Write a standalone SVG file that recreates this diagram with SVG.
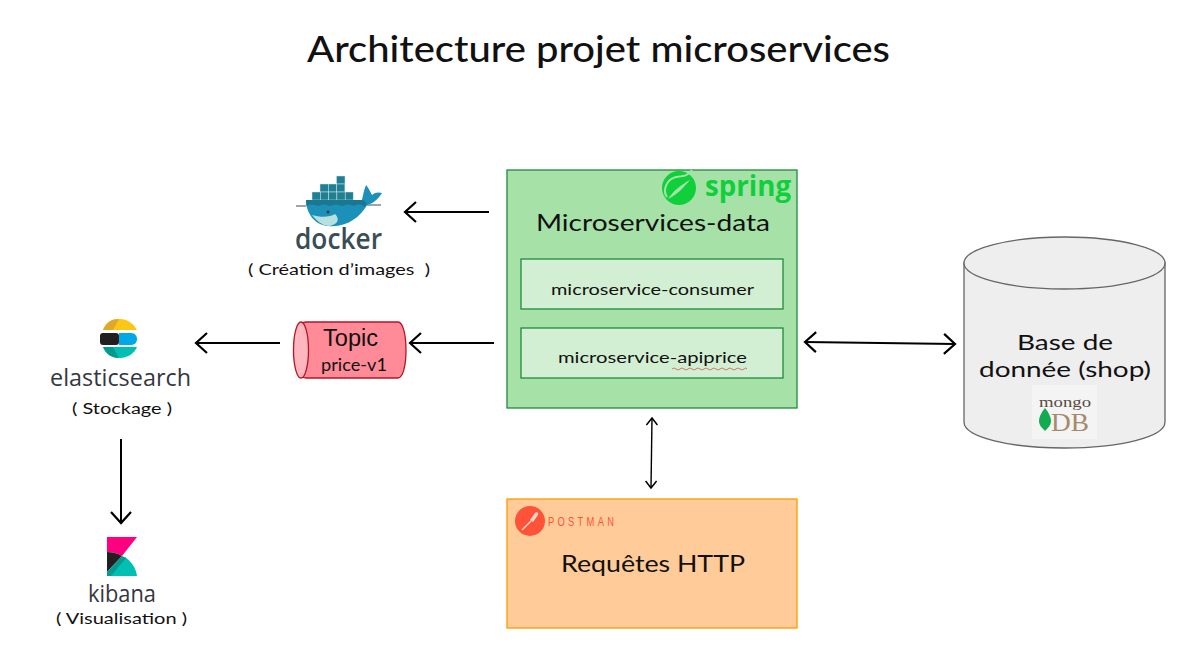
<svg xmlns="http://www.w3.org/2000/svg" width="1200" height="656" viewBox="0 0 1200 656">
<style>
text{font-family:"Lato","Open Sans","Liberation Sans",sans-serif;fill:#111;text-anchor:start}
.box{stroke-width:1.3}
.conn{fill:none;stroke:#000;stroke-width:2}
.thin{stroke-width:1.4}
.logo{font-family:"Open Sans","Liberation Sans",sans-serif}
</style>
<defs>
<marker id="open" markerUnits="userSpaceOnUse" markerWidth="20" markerHeight="28" refX="15" refY="14" orient="auto-start-reverse" viewBox="0 0 20 28"><path d="M4 4 15 14 4 24" fill="none" stroke="#000" stroke-width="2.2"/></marker>
<marker id="small" markerUnits="userSpaceOnUse" markerWidth="14" markerHeight="18" refX="10" refY="9" orient="auto-start-reverse" viewBox="0 0 14 18"><path d="M3 3.500 10 9 3 14.500" fill="none" stroke="#000" stroke-width="1.500"/></marker>
</defs>
<rect width="1200" height="656" fill="#fff"/>
<text id="title" x="307" y="62" font-size="36" font-weight="500" textLength="583" lengthAdjust="spacingAndGlyphs">Architecture projet microservices</text>

<g id="connectors">
<path class="conn" marker-end="url(#open)" d="M489 212H405"/>
<path class="conn" marker-end="url(#open)" d="M494 343H410"/>
<path class="conn" marker-end="url(#open)" d="M280 343H196"/>
<path class="conn" marker-end="url(#open)" d="M121 439V523"/>
<path class="conn" marker-start="url(#open)" marker-end="url(#open)" d="M805 342 955 344"/>
<path class="conn thin" marker-start="url(#small)" marker-end="url(#small)" d="M652 418 651 488"/>
</g>

<g id="docker">
<g stroke="#cfe6ea" stroke-width=".5" fill="#1f7f93">
<rect x="336.500" y="176" width="8.500" height="8"/>
<rect x="320" y="184" width="8.300" height="8"/><rect x="328.300" y="184" width="8.300" height="8"/><rect x="336.600" y="184" width="8.300" height="8"/>
<rect x="312" y="192" width="8.300" height="8"/><rect x="320.300" y="192" width="8.300" height="8"/><rect x="328.600" y="192" width="8.300" height="8"/><rect x="336.900" y="192" width="8.300" height="8"/><rect x="345.200" y="192" width="8" height="8"/>
</g>
<path d="M296 206H306M367 205H381" stroke="#394d54" stroke-width="1"/>
<path d="M306 200H362C363 195 364 190 366 185 369 188 370 192 372 195 375 192 379 192 382 193 378 199 374 203 367 205 360 218 345 228 328 226 314 225 306 212 306 200Z" fill="#1b90b8"/>
<path d="M306 200H362C364 200 365 201 367 204L365 207C361 204 358 204 354 206 350 204 346 204 342 206 338 204 334 204 330 206 326 204 322 204 318 206 314 204 310 204 306.500 206Z" fill="#1a7791"/>
<path d="M312 215C322 218 330 217 335 214 340 219 338 224 330 226 322 226 317 221 312 215Z" fill="#b9e0e0"/>
<circle cx="328" cy="212" r="1.500" fill="#1c3a44"/>
<text class="logo" x="295" y="249" font-size="29" font-weight="600" style="fill:#394d54" textLength="87" lengthAdjust="spacingAndGlyphs">docker</text>
<text x="248" y="275" font-size="16" textLength="182" lengthAdjust="spacingAndGlyphs" xml:space="preserve">( Création d’images  )</text>
</g>

<g id="topic">
<path d="M306 322H398C403 322 406 335 406 350 406 365 403 378 398 378H306C299 378 294 365 294 350 294 335 299 322 306 322Z" fill="#ff8a98" stroke="#b81424" stroke-width="1.300"/>
<ellipse cx="301" cy="350" rx="7.500" ry="28" fill="#ffb6bd" stroke="#b81424" stroke-width="1.300"/>
<text x="323" y="346" font-size="23" style="font-family:'Liberation Sans',sans-serif" textLength="55" lengthAdjust="spacingAndGlyphs">Topic</text>
<text x="321" y="371" font-size="17" textLength="66" lengthAdjust="spacingAndGlyphs">price-v1</text>
</g>

<g id="elasticsearch">
<path d="M103 330C106 322 112 319 120 319 127 319 133 323 137 330Z" fill="#fec514"/>
<path d="M103 330C106 322 112 319 119 319L113 330Z" fill="#e0a82a"/>
<rect x="100" y="333" width="19" height="12" rx="3" fill="#231f20"/>
<path d="M119 333H131C135 333 137 336 137 339 137 342 135 345 131 345H119Z" fill="#00a9e5"/>
<path d="M103 347H137C134 354 127 358 120 358 112 358 106 354 103 347Z" fill="#00bfb3"/>
<path d="M103 347H113L119 358C111 358 106 354 103 347Z" fill="#019b8f"/>
<text class="logo" x="50" y="386" font-size="24" style="fill:#343741" textLength="141" lengthAdjust="spacingAndGlyphs">elasticsearch</text>
<text x="72" y="414" font-size="16" textLength="100" lengthAdjust="spacingAndGlyphs" xml:space="preserve">( Stockage )</text>
</g>

<g id="kibana">
<path d="M107 537H137L122 556C117 553 112 552 107 552Z" fill="#ff0080"/>
<path d="M107 552C112 552 117 553 122 556L107 572Z" fill="#231f20"/>
<path d="M110 576 125 557C131 561 136 568 137 576Z" fill="#00bfb3"/>
<path d="M107 576V572L122 556 126 558 111 576Z" fill="#019b8f"/>
<text class="logo" x="88" y="602" font-size="24" style="fill:#343741" textLength="68" lengthAdjust="spacingAndGlyphs">kibana</text>
<text x="56" y="624" font-size="16" textLength="131" lengthAdjust="spacingAndGlyphs" xml:space="preserve">( Visualisation )</text>
</g>

<g id="microservices-data">
<rect class="box" x="507" y="170" width="290" height="238" fill="#a6e1a8" stroke="#1f8a3a"/>
<circle cx="679" cy="188" r="17" fill="#0fcf3a"/>
<path d="M692 170 C688 176 684 176 676 177 667 179 662 190 667 197" fill="none" stroke="#a6e1a8" stroke-width="2"/>
<path d="M668 199C674 190 682 184 690 180 684 187 677 195 668 199Z" fill="#a6e1a8"/>
<text class="logo" x="705" y="196" font-size="29" font-weight="700" style="fill:#0fcf3a" textLength="86" lengthAdjust="spacingAndGlyphs">spring</text>
<text x="536" y="231" font-size="24" textLength="234" lengthAdjust="spacingAndGlyphs">Microservices-data</text>
</g>
<g id="microservice-consumer">
<rect class="box" x="521" y="259" width="262" height="50" fill="#d3efd3" stroke="#1f8a3a"/>
<text x="551" y="295" font-size="16" textLength="203" lengthAdjust="spacingAndGlyphs">microservice-consumer</text>
</g>
<g id="microservice-apiprice">
<rect class="box" x="521" y="328" width="262" height="50" fill="#d3efd3" stroke="#1f8a3a"/>
<text x="558" y="363" font-size="16" textLength="189" lengthAdjust="spacingAndGlyphs">microservice-apiprice</text>
<path d="M672 369q2-2 4 0t4 0 4 0 4 0 4 0 4 0 4 0 4 0 4 0 4 0 4 0 4 0 4 0 4 0 4 0 4 0 4 0 4 0 3 0" fill="none" stroke="#d9534f" stroke-width=".8"/>
</g>

<g id="database">
<path d="M964 263V422C964 437 1009 448 1064.500 448 1120 448 1165 437 1165 422V263Z" fill="#eee" stroke="#666" stroke-width="1.300"/>
<ellipse cx="1064.500" cy="263" rx="100.500" ry="26" fill="#eee" stroke="#666" stroke-width="1.300"/>
<text x="1017" y="350" font-size="22" textLength="96" lengthAdjust="spacingAndGlyphs">Base de</text>
<text x="979" y="377" font-size="22" textLength="172" lengthAdjust="spacingAndGlyphs">donnée (shop)</text>
<rect x="1032" y="385" width="65" height="54" fill="#f4f4f4"/>
<text x="1039" y="407" font-size="15" style="font-family:'Liberation Serif',serif;fill:#5a4a42" textLength="52" lengthAdjust="spacingAndGlyphs">mongo</text>
<text x="1051" y="431" font-size="26" style="font-family:'Liberation Serif',serif;fill:#a58a6b" textLength="38" lengthAdjust="spacingAndGlyphs">DB</text>
<path d="M1045 408C1049 413 1051 417 1051 421 1051 425 1048 428 1045 431 1042 428 1039 425 1039 421 1039 417 1041 413 1045 408Z" fill="#13aa52"/>
</g>

<g id="postman">
<rect class="box" x="507" y="499" width="290" height="129" fill="#ffcc99" stroke="#ff9900"/>
<circle cx="530" cy="521" r="15" fill="#ff5339"/>
<path d="M522 530 531 521" stroke="#ffd9c9" stroke-width="1.500" fill="none"/>
<path d="M530 520 535 513C537 511 539 513 538 515L533 522Z" fill="#ffd9c9"/>
<text transform="translate(548 526) scale(.75 1)" x="0" y="0" font-size="12.500" style="font-family:'Liberation Sans',sans-serif;fill:#ff5339" textLength="88">POSTMAN</text>
<text x="561" y="572" font-size="24" textLength="184" lengthAdjust="spacingAndGlyphs">Requêtes HTTP</text>
</g>
</svg>
